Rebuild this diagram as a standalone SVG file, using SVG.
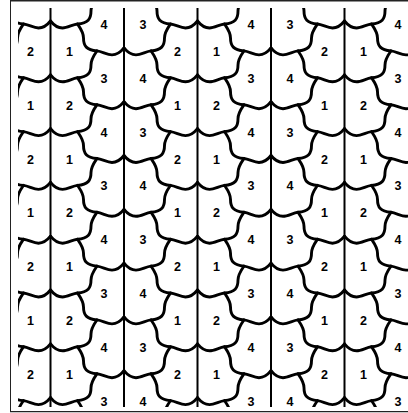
<svg xmlns="http://www.w3.org/2000/svg" width="408" height="413" viewBox="0 0 408 413">
<style>
.c{fill:none;stroke:#000;stroke-width:2.9;stroke-linecap:round;stroke-linejoin:round}
.v{stroke:#000;stroke-width:2;fill:none}
.f{stroke:#222;fill:none}
.t{font-family:"Liberation Sans",Arial,sans-serif;font-size:12.5px;font-weight:bold;text-anchor:middle;fill:#000}
</style>
<defs>
<path id="h" d="M0,0 C4,5 8,7 12,7 C17,7 22,3.5 27,3 C37.5,2.1 40.5,-1.9 40.5,-9.9 C40.5,-15.9 44.5,-20.9 46.5,-23.9"/>
<g id="g"><use href="#h"/><use href="#h" transform="scale(-1,1)"/></g>
<clipPath id="cp"><rect x="18" y="8" width="392" height="399"/></clipPath>
</defs>
<g id="frame">
<line class="f" x1="10" y1="0.8" x2="408" y2="0.8" stroke-width="1.6"/>
<line class="f" x1="10.5" y1="0" x2="10.5" y2="412" stroke-width="1"/>
<line class="f" x1="10" y1="411.6" x2="408" y2="411.6" stroke-width="1.2"/>
</g>
<g id="tiling" clip-path="url(#cp)">
<g id="lines" class="v">
<line x1="50.5" y1="0" x2="50.5" y2="413"/>
<line x1="124" y1="0" x2="124" y2="413"/>
<line x1="197.5" y1="0" x2="197.5" y2="413"/>
<line x1="271" y1="0" x2="271" y2="413"/>
<line x1="344.5" y1="0" x2="344.5" y2="413"/>
</g>
<g id="curves" class="c">
<use href="#g" x="50.5" y="21"/><use href="#g" x="50.5" y="74.8"/><use href="#g" x="50.5" y="128.6"/><use href="#g" x="50.5" y="182.4"/><use href="#g" x="50.5" y="236.2"/><use href="#g" x="50.5" y="290"/><use href="#g" x="50.5" y="343.8"/><use href="#g" x="50.5" y="397.6"/>
<use href="#g" x="197.5" y="21"/><use href="#g" x="197.5" y="74.8"/><use href="#g" x="197.5" y="128.6"/><use href="#g" x="197.5" y="182.4"/><use href="#g" x="197.5" y="236.2"/><use href="#g" x="197.5" y="290"/><use href="#g" x="197.5" y="343.8"/><use href="#g" x="197.5" y="397.6"/>
<use href="#g" x="344.5" y="21"/><use href="#g" x="344.5" y="74.8"/><use href="#g" x="344.5" y="128.6"/><use href="#g" x="344.5" y="182.4"/><use href="#g" x="344.5" y="236.2"/><use href="#g" x="344.5" y="290"/><use href="#g" x="344.5" y="343.8"/><use href="#g" x="344.5" y="397.6"/>
<use href="#g" x="-23" y="47.9"/><use href="#g" x="-23" y="101.7"/><use href="#g" x="-23" y="155.5"/><use href="#g" x="-23" y="209.3"/><use href="#g" x="-23" y="263.1"/><use href="#g" x="-23" y="316.9"/><use href="#g" x="-23" y="370.7"/><use href="#g" x="-23" y="424.5"/>
<use href="#g" x="124" y="47.9"/><use href="#g" x="124" y="101.7"/><use href="#g" x="124" y="155.5"/><use href="#g" x="124" y="209.3"/><use href="#g" x="124" y="263.1"/><use href="#g" x="124" y="316.9"/><use href="#g" x="124" y="370.7"/><use href="#g" x="124" y="424.5"/>
<use href="#g" x="271" y="47.9"/><use href="#g" x="271" y="101.7"/><use href="#g" x="271" y="155.5"/><use href="#g" x="271" y="209.3"/><use href="#g" x="271" y="263.1"/><use href="#g" x="271" y="316.9"/><use href="#g" x="271" y="370.7"/><use href="#g" x="271" y="424.5"/>
<use href="#g" x="418" y="47.9"/><use href="#g" x="418" y="101.7"/><use href="#g" x="418" y="155.5"/><use href="#g" x="418" y="209.3"/><use href="#g" x="418" y="263.1"/><use href="#g" x="418" y="316.9"/><use href="#g" x="418" y="370.7"/><use href="#g" x="418" y="424.5"/>
</g>
</g>
<g id="labels" class="t">
<text x="30.5" y="55.9">2</text><text x="69.5" y="55.9">1</text><text x="177.5" y="55.9">2</text><text x="216.5" y="55.9">1</text><text x="324.5" y="55.9">2</text><text x="363.5" y="55.9">1</text>
<text x="30.5" y="109.7">1</text><text x="69.5" y="109.7">2</text><text x="177.5" y="109.7">1</text><text x="216.5" y="109.7">2</text><text x="324.5" y="109.7">1</text><text x="363.5" y="109.7">2</text>
<text x="30.5" y="163.5">2</text><text x="69.5" y="163.5">1</text><text x="177.5" y="163.5">2</text><text x="216.5" y="163.5">1</text><text x="324.5" y="163.5">2</text><text x="363.5" y="163.5">1</text>
<text x="30.5" y="217.3">1</text><text x="69.5" y="217.3">2</text><text x="177.5" y="217.3">1</text><text x="216.5" y="217.3">2</text><text x="324.5" y="217.3">1</text><text x="363.5" y="217.3">2</text>
<text x="30.5" y="271.1">2</text><text x="69.5" y="271.1">1</text><text x="177.5" y="271.1">2</text><text x="216.5" y="271.1">1</text><text x="324.5" y="271.1">2</text><text x="363.5" y="271.1">1</text>
<text x="30.5" y="324.9">1</text><text x="69.5" y="324.9">2</text><text x="177.5" y="324.9">1</text><text x="216.5" y="324.9">2</text><text x="324.5" y="324.9">1</text><text x="363.5" y="324.9">2</text>
<text x="30.5" y="378.7">2</text><text x="69.5" y="378.7">1</text><text x="177.5" y="378.7">2</text><text x="216.5" y="378.7">1</text><text x="324.5" y="378.7">2</text><text x="363.5" y="378.7">1</text>
<text x="104" y="29">4</text><text x="143" y="29">3</text><text x="251" y="29">4</text><text x="290" y="29">3</text><text x="398" y="29">4</text>
<text x="104" y="82.8">3</text><text x="143" y="82.8">4</text><text x="251" y="82.8">3</text><text x="290" y="82.8">4</text><text x="398" y="82.8">3</text>
<text x="104" y="136.6">4</text><text x="143" y="136.6">3</text><text x="251" y="136.6">4</text><text x="290" y="136.6">3</text><text x="398" y="136.6">4</text>
<text x="104" y="190.4">3</text><text x="143" y="190.4">4</text><text x="251" y="190.4">3</text><text x="290" y="190.4">4</text><text x="398" y="190.4">3</text>
<text x="104" y="244.2">4</text><text x="143" y="244.2">3</text><text x="251" y="244.2">4</text><text x="290" y="244.2">3</text><text x="398" y="244.2">4</text>
<text x="104" y="298">3</text><text x="143" y="298">4</text><text x="251" y="298">3</text><text x="290" y="298">4</text><text x="398" y="298">3</text>
<text x="104" y="351.8">4</text><text x="143" y="351.8">3</text><text x="251" y="351.8">4</text><text x="290" y="351.8">3</text><text x="398" y="351.8">4</text>
<text x="104" y="405.6">3</text><text x="143" y="405.6">4</text><text x="251" y="405.6">3</text><text x="290" y="405.6">4</text><text x="398" y="405.6">3</text>
</g>
</svg>
